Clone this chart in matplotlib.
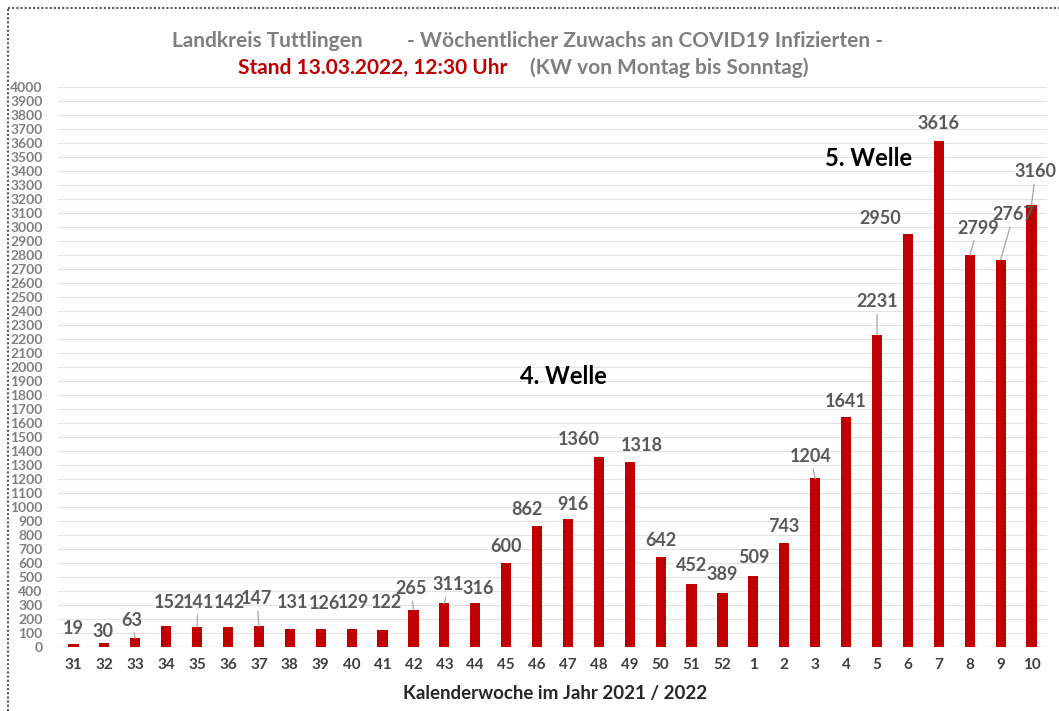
import matplotlib
matplotlib.use("Agg")
import matplotlib.pyplot as plt
from matplotlib.lines import Line2D

plt.rcParams['font.family'] = ['Lato', 'DejaVu Sans']
plt.rcParams['font.weight'] = 'bold'

# data
weeks = ["31", "32", "33", "34", "35", "36", "37", "38", "39", "40", "41", "42",
         "43", "44", "45", "46", "47", "48", "49", "50", "51", "52",
         "1", "2", "3", "4", "5", "6", "7", "8", "9", "10"]
cases = [19, 30, 63, 152, 141, 142, 147, 131, 126, 129, 122, 265,
         311, 316, 600, 862, 916, 1360, 1318, 642, 452, 389,
         509, 743, 1204, 1641, 2231, 2950, 3616, 2799, 2767, 3160]
y_ticks = list(range(0, 4001, 100))

# label offsets from bar top (pixels) and whether a leader line is drawn
label_dx = [0, -1, -4, 3, 1, 1, -2, 3, 4, 2, 4, -2,
            4, 3, 0, -10, 5, -20, 12, 0, 0, 0,
            0, 0, -5, 0, 0, -28, 0, 8, 13, 4]
label_dy = [16, 11, 18, 23, 25, 25, 28, 26, 26, 26, 27, 21,
            19, 14, 17, 17, 14, 17, 17, 17, 18, 18,
            18, 16, 22, 16, 33, 15, 17, 27, 45, 33]
leader = [False, False, True, False, True, False, True, False, False, False, False, True,
          True, False, False, False, False, False, False, False, False, False,
          False, False, True, False, True, False, False, True, True, True]

RED = "#c00000"
W, H = 1059, 711

fig = plt.figure(figsize=(W / 100, H / 100), dpi=100)
ax = fig.add_axes([58 / W, 1 - 647 / H, (1047 - 58) / W, (647 - 87) / H])

x = list(range(len(weeks)))
ax.bar(x, cases, width=0.33, color=RED, zorder=3)

for i, v in enumerate(cases):
    kw = {}
    if leader[i]:
        kw['arrowprops'] = dict(arrowstyle='-', color='#a6a6a6', lw=0.9,
                                shrinkA=1, shrinkB=0)
    ax.annotate(str(v), xy=(i, v), xytext=(label_dx[i], label_dy[i]),
                textcoords='offset pixels', ha='center', va='center',
                fontsize=13, fontweight='bold', color='#595959',
                annotation_clip=False, zorder=4, **kw)

ax.set_xlim(-0.5, len(weeks) - 0.5)
ax.set_ylim(0, 4000)
ax.set_yticks(y_ticks)
ax.set_yticklabels([str(t) for t in y_ticks], fontsize=10, fontweight='bold',
                   color='#808080')
ax.set_xticks(x)
ax.set_xticklabels(weeks, fontsize=11, fontweight='bold', color='#404040')
ax.tick_params(axis='y', length=0, pad=11)
ax.tick_params(axis='x', length=0, pad=8)
ax.grid(axis='y', color='#e3e3e3', lw=0.8, zorder=0)
for s in ax.spines.values():
    s.set_visible(False)
ax.axhline(0, color='#d0d0d0', lw=0.9, zorder=2)

fig.text(563 / W, 1 - 376 / H, "4. Welle", ha='center', va='center',
         fontsize=17, fontweight='bold', color='black')
fig.text(869 / W, 1 - 158 / H, "5. Welle", ha='center', va='center',
         fontsize=17, fontweight='bold', color='black')

# titles
fig.text(172 / W, 1 - 41 / H, "Landkreis Tuttlingen", ha='left', va='center',
         fontsize=15, fontweight='bold', color='#7f7f7f')
fig.text(407 / W, 1 - 41 / H, "- Wöchentlicher Zuwachs an COVID19 Infizierten -",
         ha='left', va='center', fontsize=15, fontweight='bold', color='#7f7f7f')
fig.text(238 / W, 1 - 68 / H, "Stand 13.03.2022, 12:30 Uhr", ha='left', va='center',
         fontsize=15, fontweight='bold', color=RED)
fig.text(530 / W, 1 - 68 / H, "(KW von Montag bis Sonntag)", ha='left', va='center',
         fontsize=15, fontweight='bold', color='#7f7f7f')

fig.text(555 / W, 1 - 693 / H, "Kalenderwoche im Jahr 2021 / 2022", ha='center',
         va='center', fontsize=13.5, fontweight='bold', color='#262626')

# dotted frame
fig.add_artist(Line2D([8 / W, 1], [1 - 8 / H, 1 - 8 / H], transform=fig.transFigure,
                      color='#595959', lw=1.5, linestyle=(0, (1, 1))))
fig.add_artist(Line2D([8 / W, 8 / W], [0, 1 - 8 / H], transform=fig.transFigure,
                      color='#595959', lw=1.5, linestyle=(0, (1, 1))))

fig.savefig("out.png", dpi=100)
